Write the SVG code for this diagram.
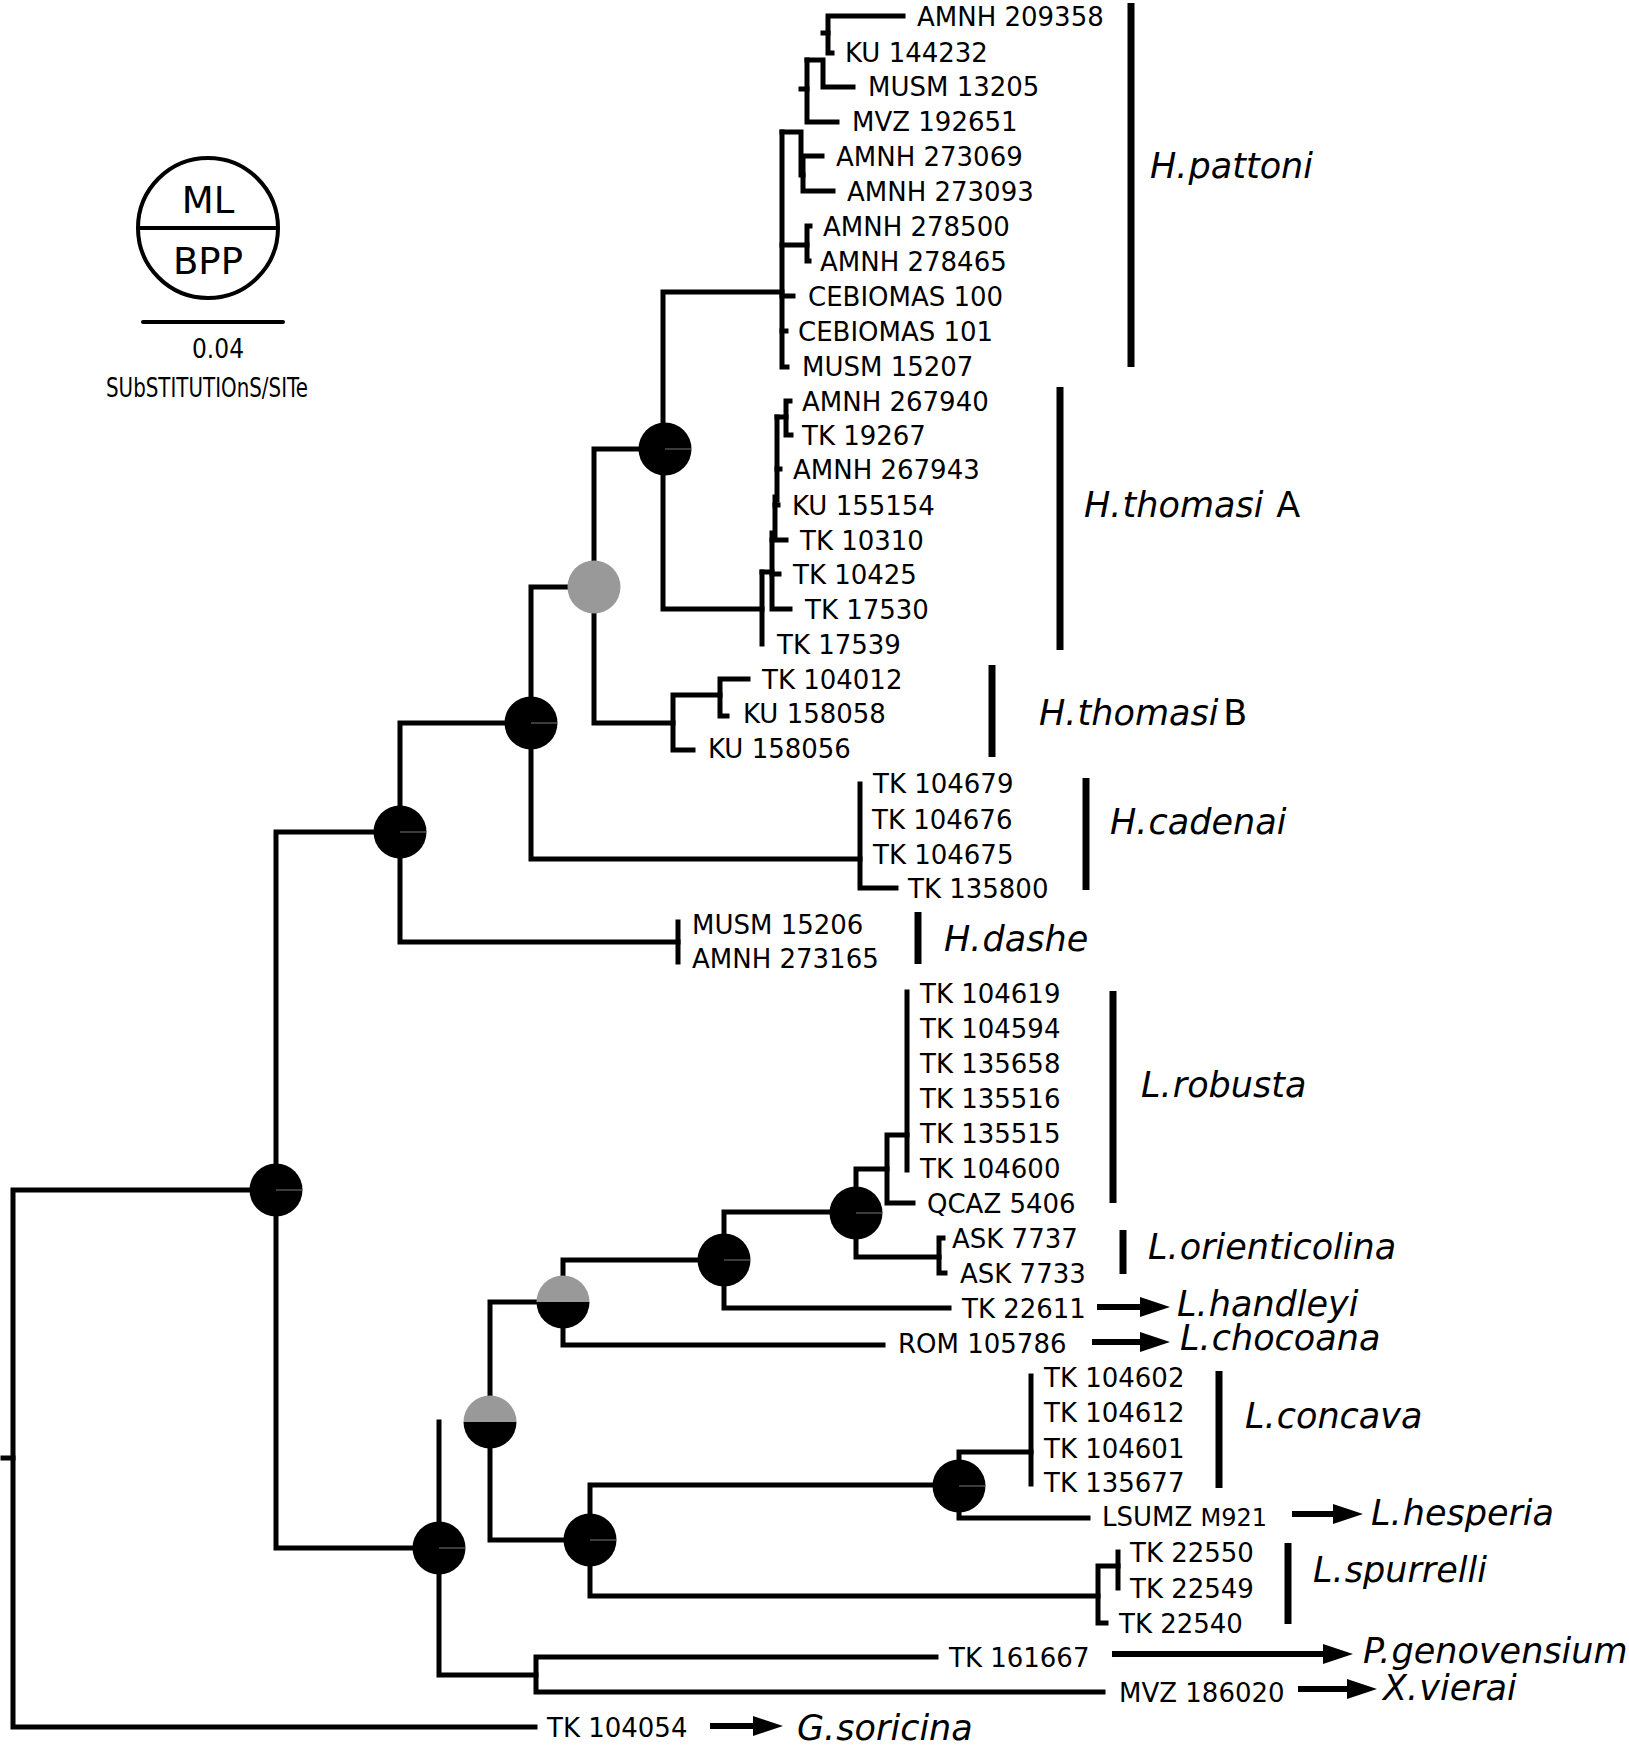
<svg xmlns="http://www.w3.org/2000/svg" width="1629" height="1748" viewBox="0 0 1629 1748">
<style>
text{font-family:"DejaVu Sans","Liberation Sans",sans-serif;fill:#000}
.tip{font-size:26px}
.sm{font-size:24px}
.sp{font-size:35px;font-style:italic;word-spacing:-10px}
.up{font-style:normal}
.br{fill:none;stroke:#000;stroke-width:5;stroke-linecap:square;stroke-linejoin:miter}
.bar{stroke:#000;stroke-width:7}
.arr{fill:none;stroke:#000;stroke-width:6}
.blk{fill:#000}
.gry{fill:#999999}
.seam{stroke:#777;stroke-width:1}
</style>
<defs>
<marker id="ah" markerUnits="userSpaceOnUse" markerWidth="30" markerHeight="20" refX="0" refY="10" orient="auto" viewBox="0 0 30 20"><path d="M0,0 L30,10 L0,20 Z" fill="#000"/></marker>
</defs>
<rect width="1629" height="1748" fill="#fff"/>

<g id="legend">
<circle cx="208" cy="228" r="70" fill="none" stroke="#000" stroke-width="4"/>
<line x1="138" y1="228" x2="278" y2="228" stroke="#000" stroke-width="4"/>
<text x="208" y="213" font-size="37" text-anchor="middle">ML</text>
<text x="208" y="274" font-size="37" text-anchor="middle">BPP</text>
<line x1="143" y1="322" x2="283" y2="322" stroke="#000" stroke-width="4" stroke-linecap="round"/>
<text x="192" y="358" font-size="27" textLength="52" lengthAdjust="spacingAndGlyphs">0.04</text>
<text x="106" y="397" font-size="26" textLength="202" lengthAdjust="spacingAndGlyphs">SUbSTITUTIOnS/SITe</text>
</g>

<g id="connectors">
<path class="br" d="M3,1458 H13"/>
<path class="br" d="M276,1190 H13 V1727 H535"/>
<path class="br" d="M400,832 H276 V1548 H439"/>
<path class="br" d="M531,723 H400 V942 H678"/>
<path class="br" d="M678,922 V962"/>
<path class="br" d="M594,587 H531 V859 H860"/>
<path class="br" d="M860,784 V888 H896"/>
<path class="br" d="M663,449 H594 V723 H673"/>
<path class="br" d="M782,292 H663 V609 H762"/>
<!-- H. pattoni -->
<path class="br" d="M782,132 V367 H787"/>
<path class="br" d="M782,132 H801 V175 H803"/>
<path class="br" d="M801,89 H807"/>
<path class="br" d="M807,60 V122 H837"/>
<path class="br" d="M807,60 H823 V87 H853"/>
<path class="br" d="M823,33 H828"/>
<path class="br" d="M903,16 H828 V53 H832"/>
<path class="br" d="M822,156 H803 V191 H833"/>
<path class="br" d="M782,245 H807"/>
<path class="br" d="M810,226 H807 V261 H809"/>
<path class="br" d="M782,296 H793"/>
<path class="br" d="M782,331 H786"/>
<!-- H. thomasi A -->
<path class="br" d="M762,572 V644"/>
<path class="br" d="M762,572 H772"/>
<path class="br" d="M772,533 V609 H790"/>
<path class="br" d="M772,540 H786"/>
<path class="br" d="M772,574 H779"/>
<path class="br" d="M775,497 V536"/>
<path class="br" d="M775,505 H778"/>
<path class="br" d="M777,417 V500"/>
<path class="br" d="M777,469 H780"/>
<path class="br" d="M777,417 H786"/>
<path class="br" d="M790,401 H786 V435 H791"/>
<!-- H. thomasi B -->
<path class="br" d="M720,695 H673 V750 H693"/>
<path class="br" d="M748,679 H720 V716 H727"/>
<!-- L. robusta group -->
<path class="br" d="M563,1302 H490 V1540 H590"/>
<path class="br" d="M439,1422 V1675 H536"/>
<path class="br" d="M724,1260 H563 V1345 H883"/>
<path class="br" d="M856,1212 H724 V1308 H949"/>
<path class="br" d="M887,1169 H856 V1257 H939"/>
<path class="br" d="M943,1238 H939 V1273 H945"/>
<path class="br" d="M907,1135 H887 V1203 H913"/>
<path class="br" d="M907,992 V1170"/>
<path class="br" d="M959,1485 H590 V1596 H1098"/>
<path class="br" d="M1031,1452 H959 V1518 H1088"/>
<path class="br" d="M1031,1376 V1484"/>
<path class="br" d="M1118,1566 H1098 V1623 H1106"/>
<path class="br" d="M1118,1552 V1588"/>
<path class="br" d="M936,1657 H536 V1692 H1103"/>
<!-- arrows -->
<path class="arr" d="M1097,1307 H1140" marker-end="url(#ah)"/>
<path class="arr" d="M1092,1342 H1140" marker-end="url(#ah)"/>
<path class="arr" d="M1292,1514 H1333" marker-end="url(#ah)"/>
<path class="arr" d="M1112,1654 H1323" marker-end="url(#ah)"/>
<path class="arr" d="M1298,1689 H1347" marker-end="url(#ah)"/>
<path class="arr" d="M710,1726 H753" marker-end="url(#ah)"/>
</g>

<g id="node-A"><path class="blk" d="M249.5,1190 A26.5,26.5 0 0 1 302.5,1190 Z"/><path class="blk" d="M249.5,1190 A26.5,26.5 0 0 0 302.5,1190 Z"/><line class="seam" x1="276" y1="1190" x2="302" y2="1190"/></g>
<g id="node-B"><path class="blk" d="M373.5,832 A26.5,26.5 0 0 1 426.5,832 Z"/><path class="blk" d="M373.5,832 A26.5,26.5 0 0 0 426.5,832 Z"/><line class="seam" x1="400" y1="832" x2="426" y2="832"/></g>
<g id="node-D"><path class="blk" d="M504.5,723 A26.5,26.5 0 0 1 557.5,723 Z"/><path class="blk" d="M504.5,723 A26.5,26.5 0 0 0 557.5,723 Z"/><line class="seam" x1="531" y1="723" x2="557" y2="723"/></g>
<g id="node-E"><path class="gry" d="M567.5,587 A26.5,26.5 0 0 1 620.5,587 Z"/><path class="gry" d="M567.5,587 A26.5,26.5 0 0 0 620.5,587 Z"/></g>
<g id="node-F"><path class="blk" d="M638.5,449 A26.5,26.5 0 0 1 691.5,449 Z"/><path class="blk" d="M638.5,449 A26.5,26.5 0 0 0 691.5,449 Z"/><line class="seam" x1="665" y1="449" x2="691" y2="449"/></g>
<g id="node-robusta-orienticolina"><path class="blk" d="M829.5,1213 A26.5,26.5 0 0 1 882.5,1213 Z"/><path class="blk" d="M829.5,1213 A26.5,26.5 0 0 0 882.5,1213 Z"/><line class="seam" x1="856" y1="1213" x2="882" y2="1213"/></g>
<g id="node-handleyi"><path class="blk" d="M697.5,1260 A26.5,26.5 0 0 1 750.5,1260 Z"/><path class="blk" d="M697.5,1260 A26.5,26.5 0 0 0 750.5,1260 Z"/><line class="seam" x1="724" y1="1260" x2="750" y2="1260"/></g>
<g id="node-chocoana"><path class="gry" d="M536.5,1302 A26.5,26.5 0 0 1 589.5,1302 Z"/><path class="blk" d="M536.5,1302 A26.5,26.5 0 0 0 589.5,1302 Z"/></g>
<g id="node-L1"><path class="gry" d="M463.5,1422 A26.5,26.5 0 0 1 516.5,1422 Z"/><path class="blk" d="M463.5,1422 A26.5,26.5 0 0 0 516.5,1422 Z"/></g>
<g id="node-C"><path class="blk" d="M412.5,1548 A26.5,26.5 0 0 1 465.5,1548 Z"/><path class="blk" d="M412.5,1548 A26.5,26.5 0 0 0 465.5,1548 Z"/><line class="seam" x1="439" y1="1548" x2="465" y2="1548"/></g>
<g id="node-L2"><path class="blk" d="M563.5,1540 A26.5,26.5 0 0 1 616.5,1540 Z"/><path class="blk" d="M563.5,1540 A26.5,26.5 0 0 0 616.5,1540 Z"/><line class="seam" x1="590" y1="1540" x2="616" y2="1540"/></g>
<g id="node-concava-hesperia"><path class="blk" d="M932.5,1486 A26.5,26.5 0 0 1 985.5,1486 Z"/><path class="blk" d="M932.5,1486 A26.5,26.5 0 0 0 985.5,1486 Z"/><line class="seam" x1="959" y1="1486" x2="985" y2="1486"/></g>

<g id="tips" class="tip">
<text x="917" y="26">AMNH 209358</text>
<text x="845" y="62">KU 144232</text>
<text x="868" y="96">MUSM 13205</text>
<text x="852" y="131">MVZ 192651</text>
<text x="836" y="166">AMNH 273069</text>
<text x="847" y="201">AMNH 273093</text>
<text x="823" y="236">AMNH 278500</text>
<text x="820" y="271">AMNH 278465</text>
<text x="808" y="306">CEBIOMAS 100</text>
<text x="798" y="341">CEBIOMAS 101</text>
<text x="802" y="376">MUSM 15207</text>
<text x="802" y="411">AMNH 267940</text>
<text x="802" y="445">TK 19267</text>
<text x="793" y="479">AMNH 267943</text>
<text x="792" y="515">KU 155154</text>
<text x="800" y="550">TK 10310</text>
<text x="793" y="584">TK 10425</text>
<text x="805" y="619">TK 17530</text>
<text x="777" y="654">TK 17539</text>
<text x="762" y="689">TK 104012</text>
<text x="743" y="723">KU 158058</text>
<text x="708" y="758">KU 158056</text>
<text x="873" y="793">TK 104679</text>
<text x="872" y="829">TK 104676</text>
<text x="873" y="864">TK 104675</text>
<text x="908" y="898">TK 135800</text>
<text x="692" y="934">MUSM 15206</text>
<text x="692" y="968">AMNH 273165</text>
<text x="920" y="1003">TK 104619</text>
<text x="920" y="1038">TK 104594</text>
<text x="920" y="1073">TK 135658</text>
<text x="920" y="1108">TK 135516</text>
<text x="920" y="1143">TK 135515</text>
<text x="920" y="1178">TK 104600</text>
<text x="927" y="1213">QCAZ 5406</text>
<text x="952" y="1248">ASK 7737</text>
<text x="960" y="1283">ASK 7733</text>
<text x="962" y="1318">TK 22611</text>
<text x="898" y="1353">ROM 105786</text>
<text x="1044" y="1387">TK 104602</text>
<text x="1044" y="1422">TK 104612</text>
<text x="1044" y="1458">TK 104601</text>
<text x="1044" y="1492">TK 135677</text>
<text x="1102" y="1526">LSUMZ <tspan class="sm">M921</tspan></text>
<text x="1130" y="1562">TK 22550</text>
<text x="1130" y="1598">TK 22549</text>
<text x="1119" y="1633">TK 22540</text>
<text x="949" y="1667">TK 161667</text>
<text x="1119" y="1702">MVZ 186020</text>
<text x="547" y="1737">TK 104054</text>
</g>

<g id="clade-pattoni"><line class="bar" x1="1131" y1="3" x2="1131" y2="367"/><text class="sp" x="1150" y="178">H. pattoni</text></g>
<g id="clade-thomasiA"><line class="bar" x1="1060" y1="387" x2="1060" y2="650"/><text class="sp" x="1084" y="517">H. thomasi<tspan class="up" x="1275"> A</tspan></text></g>
<g id="clade-thomasiB"><line class="bar" x1="992" y1="665" x2="992" y2="757"/><text class="sp" x="1039" y="725">H. thomasi<tspan class="up" x="1222"> B</tspan></text></g>
<g id="clade-cadenai"><line class="bar" x1="1086" y1="778" x2="1086" y2="890"/><text class="sp" x="1110" y="834">H. cadenai</text></g>
<g id="clade-dashe"><line class="bar" x1="918" y1="912" x2="918" y2="964" stroke-width="8"/><text class="sp" x="944" y="951">H. dashe</text></g>
<g id="clade-robusta"><line class="bar" x1="1113" y1="991" x2="1113" y2="1203"/><text class="sp" x="1141" y="1097">L. robusta</text></g>
<g id="clade-orienticolina"><line class="bar" x1="1123" y1="1230" x2="1123" y2="1274"/><text class="sp" x="1148" y="1259">L. orienticolina</text></g>
<g id="taxon-handleyi"><text class="sp" x="1177" y="1316">L. handleyi</text></g>
<g id="taxon-chocoana"><text class="sp" x="1180" y="1350">L. chocoana</text></g>
<g id="clade-concava"><line class="bar" x1="1219" y1="1371" x2="1219" y2="1488"/><text class="sp" x="1245" y="1428">L. concava</text></g>
<g id="taxon-hesperia"><text class="sp" x="1371" y="1525">L. hesperia</text></g>
<g id="clade-spurrelli"><line class="bar" x1="1288" y1="1543" x2="1288" y2="1624"/><text class="sp" x="1313" y="1582">L. spurrelli</text></g>
<g id="taxon-genovensium"><text class="sp" x="1363" y="1663">P. genovensium</text></g>
<g id="taxon-vierai"><text class="sp" x="1383" y="1700">X. vierai</text></g>
<g id="taxon-soricina"><text class="sp" x="797" y="1740">G. soricina</text></g>
</svg>
